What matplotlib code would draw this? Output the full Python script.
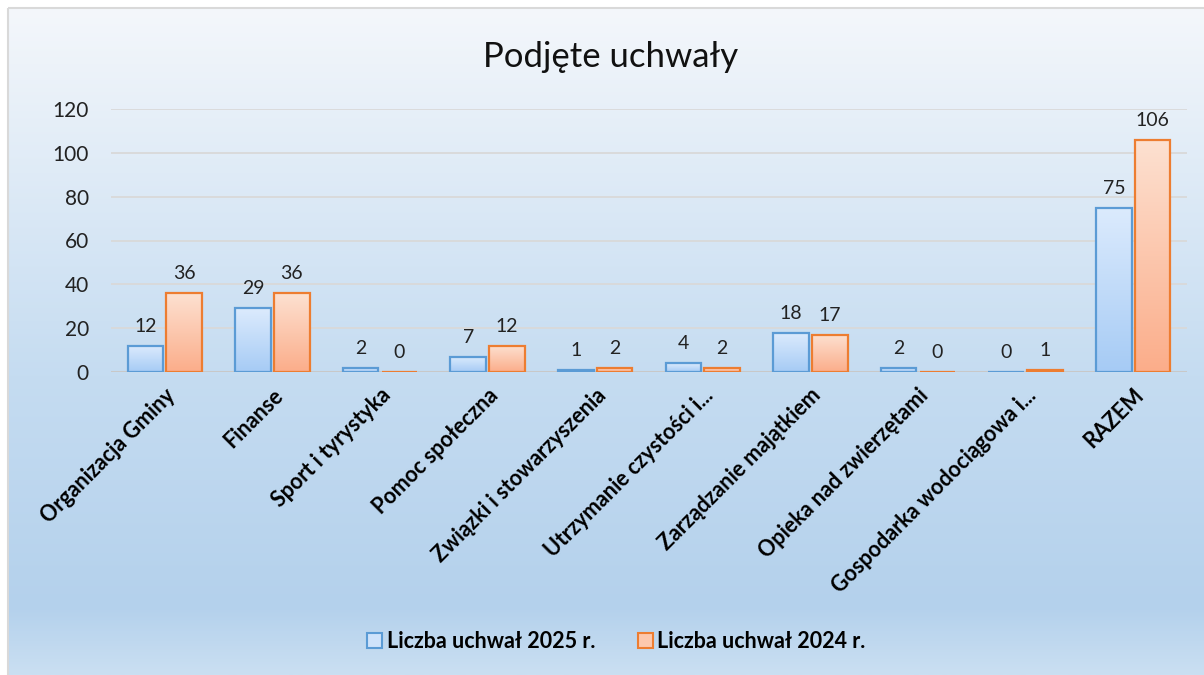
import numpy as np
import matplotlib.pyplot as plt
from matplotlib.colors import LinearSegmentedColormap
from matplotlib.patches import Rectangle

categories = ["Organizacja Gminy", "Finanse", "Sport i tyrystyka", "Pomoc społeczna",
              "Związki i stowarzyszenia", "Utrzymanie czystości i...", "Zarządzanie majątkiem",
              "Opieka nad zwierzętami", "Gospodarka wodociągowa i...", "RAZEM"]
uchwaly_2025 = [12, 29, 2, 7, 1, 4, 18, 2, 0, 75]
uchwaly_2024 = [36, 36, 0, 12, 2, 2, 17, 0, 1, 106]
series_names = ["Liczba uchwał 2025 r.", "Liczba uchwał 2024 r."]

plt.rcParams["font.family"] = ["Lato", "DejaVu Sans"]

fig = plt.figure(figsize=(12.04, 6.75), dpi=100)

# tło z gradientem i ramką
bg = fig.add_axes([0, 0, 1, 1], zorder=-10)
bg.axis("off")
bg_cmap = LinearSegmentedColormap.from_list(
    "bg", [(0, "#f4f7fb"), (0.55, "#c5dcf1"), (0.9, "#b4d1ec"), (1, "#cadff2")])
grad = np.linspace(0, 1, 256).reshape(-1, 1)
bg.imshow(grad, cmap=bg_cmap, aspect="auto", extent=[9, 1204, 675, 9])
bg.add_patch(Rectangle((8, 8), 1200, 672, fill=False, ec="#d9d9d9", lw=1.5))
bg.set_xlim(0, 1204)
bg.set_ylim(675, 0)

ax = fig.add_axes([111 / 1204, 1 - 372 / 675, (1187 - 111) / 1204, (372 - 109) / 675])
ax.patch.set_alpha(0)

x = np.arange(len(categories))
w = 0.33
gap = 0.03
blue_cmap = LinearSegmentedColormap.from_list("b", ["#a6cbf5", "#dcebfd"])
orange_cmap = LinearSegmentedColormap.from_list("o", ["#fbad8a", "#fde1d1"])

bars1 = ax.bar(x - w / 2 - gap / 2, uchwaly_2025, w, facecolor="none",
               edgecolor="#5b9bd5", lw=1.6, zorder=3, label=series_names[0])
bars2 = ax.bar(x + w / 2 + gap / 2, uchwaly_2024, w, facecolor="none",
               edgecolor="#ed7d31", lw=1.6, zorder=3, label=series_names[1])

for bars, cmap in [(bars1, blue_cmap), (bars2, orange_cmap)]:
    for b in bars:
        h = b.get_height()
        if h <= 0:
            continue
        x0 = b.get_x()
        im = ax.imshow(grad, cmap=cmap, aspect="auto", origin="lower",
                       extent=[x0, x0 + b.get_width(), 0, h], zorder=2)
        im.set_clip_path(b)

for bars in (bars1, bars2):
    for b in bars:
        ax.text(b.get_x() + b.get_width() / 2, b.get_height() + 5, f"{int(b.get_height())}",
                ha="center", va="bottom", fontsize=14, color="#222222")

ax.set_xlim(-0.5, len(categories) - 0.5)
ax.set_ylim(0, 120)
ax.set_yticks(range(0, 121, 20))
ax.tick_params(axis="y", length=0, labelsize=15, pad=16, labelcolor="#222222")
ax.tick_params(axis="x", length=0, pad=9)
ax.set_xticks(x)
ax.set_xticklabels(categories, rotation=45, ha="right", va="top", rotation_mode="anchor",
                   fontsize=15.5, fontweight="bold")
for s in ax.spines.values():
    s.set_visible(False)
ax.grid(axis="y", color="#d9d9d9", lw=1.3, zorder=0)
ax.set_axisbelow(True)
ax.axhline(0, color="#c8c8c8", lw=1.5, zorder=1)

fig.text(0.507, 0.915, "Podjęte uchwały", ha="center", va="center", fontsize=25, color="#111111")

handles = [Rectangle((0, 0), 1, 1, fc="#cfe3fb", ec="#5b9bd5", lw=1.5),
           Rectangle((0, 0), 1, 1, fc="#fdc8ad", ec="#ed7d31", lw=1.5)]
fig.legend(handles, series_names, loc="center", bbox_to_anchor=(0.512, 0.05), ncol=2,
           frameon=False, prop={"weight": "bold", "size": 15.5}, handlelength=0.7,
           handleheight=0.7, handletextpad=0.2, columnspacing=2.0)

fig.savefig("out.png", dpi=100)
